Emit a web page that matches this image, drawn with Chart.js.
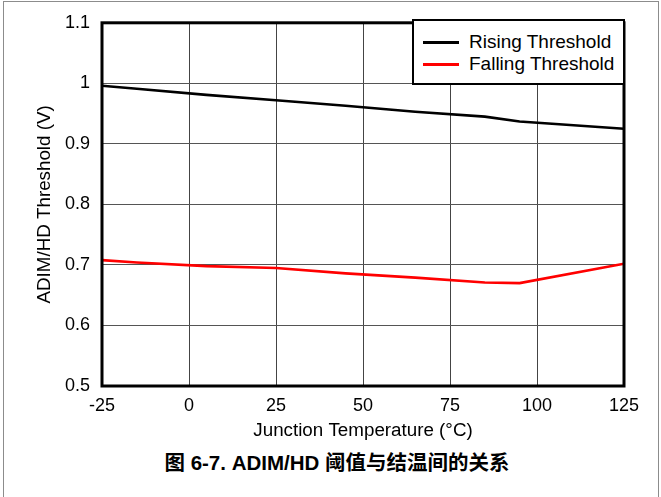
<!DOCTYPE html>
<html>
<head>
<meta charset="utf-8">
<script src="https://cdn.jsdelivr.net/npm/chart.js@4.4.0/dist/chart.umd.min.js"></script>
<style>
  html, body { margin: 0; padding: 0; background: #fff; }
  body { width: 661px; height: 497px; position: relative; overflow: hidden; font-family: "Liberation Sans", Arial, sans-serif; }
  #frame { position: absolute; left: 3px; top: 1px; width: 654px; height: 520px; border: 1px solid #8c8c8c; }
  #wrap { position: absolute; left: 0; top: 0; width: 661px; height: 445px; }
  #legend { position: absolute; left: 412px; top: 19px; width: 213px; height: 66px; box-sizing: border-box;
            border: 2px solid #000; background: #fff; padding-top: 10px; }
  #legend .row { position: relative; height: 22px; font-size: 19px; line-height: 22px; color: #000; }
  #legend .swatch { position: absolute; left: 9px; top: 10px; width: 36px; height: 3px; }
  #legend .txt { position: absolute; left: 55px; top: 0; white-space: nowrap; }
  #caption { position: absolute; left: 0; top: 451px; width: 674px; text-align: center; font-weight: bold;
             font-size: 20.5px; line-height: 24px; color: #000; font-family: "Liberation Sans", "Noto Sans CJK SC", sans-serif; }
</style>
</head>
<body>
<div id="frame"></div>
<div id="wrap"><canvas id="chart" width="661" height="445"></canvas></div>
<div id="legend"></div>
<div id="caption">图 6-7. ADIM/HD 阈值与结温间的关系</div>
<script>
// Umbral ADIM/HD frente a temperatura de unión
const temps   = [-25, -15, 5, 25, 45, 65, 85, 95, 125];
const rising  = [0.996, 0.991, 0.981, 0.972, 0.963, 0.953, 0.945, 0.937, 0.925];
const falling = [0.708, 0.704, 0.698, 0.695, 0.686, 0.679, 0.671, 0.670, 0.702];

const xTicks = [-25, 0, 25, 50, 75, 100, 125];
const yTicks = [0.5, 0.6, 0.7, 0.8, 0.9, 1, 1.1];
const yTickLabels = ['0.5', '0.6', '0.7', '0.8', '0.9', '1', '1.1'];

const seriesNames = ['Rising Threshold', 'Falling Threshold'];
const seriesColors = ['#000000', '#ff0000'];

// marco grueso alrededor del área de trazado
const plotFrame = {
    id: 'plotFrame',
    afterDatasetsDraw(chart) {
        const { ctx, chartArea: a } = chart;
        ctx.save();
        ctx.strokeStyle = '#000';
        ctx.lineWidth = 3;
        ctx.strokeRect(a.left, a.top, a.right - a.left, a.bottom - a.top);
        ctx.restore();
    }
};

const font = { family: '"Liberation Sans", Arial, sans-serif', size: 18 };
const titleFont = { family: '"Liberation Sans", Arial, sans-serif', size: 18.8 };

const chart = new Chart(document.getElementById('chart'), {
    type: 'line',
    data: {
        datasets: [
            { label: seriesNames[0], data: temps.map((t, i) => ({ x: t, y: rising[i] })),
              borderColor: seriesColors[0], borderWidth: 2.6, pointRadius: 0, tension: 0 },
            { label: seriesNames[1], data: temps.map((t, i) => ({ x: t, y: falling[i] })),
              borderColor: seriesColors[1], borderWidth: 2.6, pointRadius: 0, tension: 0 }
        ]
    },
    options: {
        responsive: false,
        animation: false,
        layout: { padding: { left: 34, right: 37, top: 21, bottom: 0 } },
        plugins: { legend: { display: false }, tooltip: { enabled: false } },
        scales: {
            x: {
                type: 'linear', min: -25, max: 125,
                afterBuildTicks: s => { s.ticks = xTicks.map(v => ({ value: v })); },
                afterFit: s => { s.height = 59; },
                grid: { color: '#444', lineWidth: 1, drawTicks: false },
                border: { display: false },
                ticks: { color: '#000', font, padding: 9, maxRotation: 0, autoSkip: false },
                title: { display: true, text: 'Junction Temperature (°C)', color: '#000', font: titleFont, padding: { top: 0, bottom: 3 } }
            },
            y: {
                type: 'linear', min: 0.5, max: 1.1,
                afterBuildTicks: s => { s.ticks = yTicks.map(v => ({ value: v })); },
                afterFit: s => { s.width = 68; },
                grid: { color: '#555', lineWidth: 1, drawTicks: false },
                border: { display: false },
                ticks: { color: '#000', font, padding: 12, autoSkip: false,
                         callback: (v, i) => yTickLabels[i] },
                title: { display: true, text: 'ADIM/HD Threshold (V)', color: '#000', font: titleFont, padding: { top: 0, bottom: 0 } }
            }
        }
    },
    plugins: [plotFrame]
});

// leyenda dentro del recuadro superior derecho
const legend = document.getElementById('legend');
chart.data.datasets.forEach(ds => {
    const row = document.createElement('div');
    row.className = 'row';
    row.innerHTML = `<span class="swatch" style="background:${ds.borderColor}"></span><span class="txt">${ds.label}</span>`;
    legend.appendChild(row);
});
</script>
</body>
</html>
